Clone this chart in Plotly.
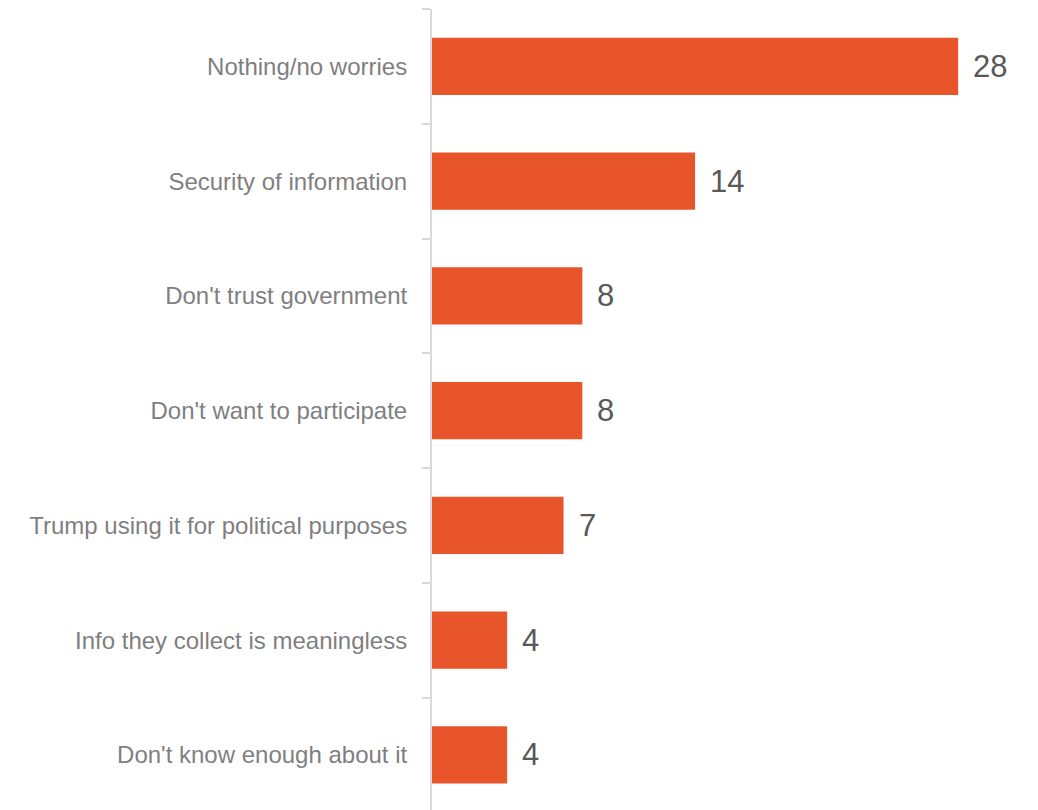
import plotly.graph_objects as go

categories = [
    "Nothing/no worries",
    "Security of information",
    "Don't trust government",
    "Don't want to participate",
    "Trump using it for political purposes",
    "Info they collect is meaningless",
    "Don't know enough about it",
]
values = [28, 14, 8, 8, 7, 4, 4]

BAR_COLOR = "#E8552B"
AXIS_COLOR = "#D9D9D9"
LABEL_FONT = "Liberation Sans Narrow, Arial Narrow, Liberation Sans, Arial, sans-serif"

fig = go.Figure(
    go.Bar(
        x=values,
        y=categories,
        orientation="h",
        marker=dict(color=BAR_COLOR, line=dict(width=0)),
        width=0.5,
        hoverinfo="skip",
    )
)

# value labels just past the end of each bar
for cat, val in zip(categories, values):
    fig.add_annotation(
        x=val,
        y=cat,
        text=str(val),
        showarrow=False,
        xanchor="left",
        xshift=13,
        font=dict(family="Liberation Sans, Arial, sans-serif", size=31, color="#595959"),
    )

fig.update_layout(
    width=1038,
    height=810,
    margin=dict(l=432, r=0, t=9, b=0),
    paper_bgcolor="white",
    plot_bgcolor="white",
    showlegend=False,
    xaxis=dict(
        range=[0, 32.25],
        showgrid=False,
        zeroline=False,
        showticklabels=False,
        showline=False,
        ticks="",
    ),
    yaxis=dict(
        categoryorder="array",
        categoryarray=categories,
        autorange=False,
        range=[6.48, -0.5],
        showgrid=False,
        zeroline=False,
        showline=True,
        linecolor=AXIS_COLOR,
        linewidth=2,
        ticks="outside",
        tickson="boundaries",
        ticklen=8,
        tickwidth=1.5,
        tickcolor=AXIS_COLOR,
        ticklabelstandoff=18,
        tickfont=dict(family=LABEL_FONT, size=24, color="#7F7F7F"),
    ),
)

fig.write_html("out.html")
